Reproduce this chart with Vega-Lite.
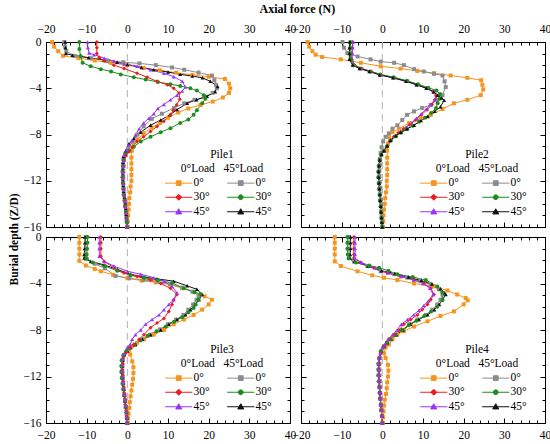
{
  "$schema": "https://vega.github.io/schema/vega-lite/v6.json",
  "padding": {"left": 7, "top": 2, "right": 1, "bottom": 3},
  "title": {"text": "Axial force (N)", "frame": "bounds", "anchor": "middle", "dx": 18, "font": "Liberation Serif", "fontSize": 12, "fontWeight": "bold", "color": "#000", "offset": 5},
  "data": {"name": "piles"},
  "datasets": {
    "piles": [
      {"p":1,"s":"A0","f":-18.5,"z":0},{"p":1,"s":"A0","f":-18,"z":-0.4},{"p":1,"s":"A0","f":-17,"z":-0.8},{"p":1,"s":"A0","f":-15.8,"z":-1.2},{"p":1,"s":"A0","f":-12,"z":-1.4},{"p":1,"s":"A0","f":-8,"z":-1.6},{"p":1,"s":"A0","f":-4,"z":-1.8},{"p":1,"s":"A0","f":0,"z":-2},{"p":1,"s":"A0","f":4,"z":-2.25},{"p":1,"s":"A0","f":8,"z":-2.45},{"p":1,"s":"A0","f":12,"z":-2.65},{"p":1,"s":"A0","f":16,"z":-2.85},{"p":1,"s":"A0","f":20,"z":-3},{"p":1,"s":"A0","f":24,"z":-3.2},{"p":1,"s":"A0","f":25,"z":-3.6},{"p":1,"s":"A0","f":25.3,"z":-4},{"p":1,"s":"A0","f":25,"z":-4.4},{"p":1,"s":"A0","f":23.5,"z":-4.8},{"p":1,"s":"A0","f":21,"z":-5.15},{"p":1,"s":"A0","f":18,"z":-5.45},{"p":1,"s":"A0","f":15,"z":-5.75},{"p":1,"s":"A0","f":12.5,"z":-6.1},{"p":1,"s":"A0","f":10,"z":-6.55},{"p":1,"s":"A0","f":8,"z":-7},{"p":1,"s":"A0","f":6,"z":-7.4},{"p":1,"s":"A0","f":4,"z":-7.9},{"p":1,"s":"A0","f":2.5,"z":-8.4},{"p":1,"s":"A0","f":1.5,"z":-8.9},{"p":1,"s":"A0","f":1.1,"z":-9.4},{"p":1,"s":"A0","f":1,"z":-10},{"p":1,"s":"A0","f":1,"z":-10.5},{"p":1,"s":"A0","f":1,"z":-11},{"p":1,"s":"A0","f":1,"z":-11.5},{"p":1,"s":"A0","f":1,"z":-12},{"p":1,"s":"A0","f":0.8,"z":-12.5},{"p":1,"s":"A0","f":0.7,"z":-13},{"p":1,"s":"A0","f":0.5,"z":-13.5},{"p":1,"s":"A0","f":0.4,"z":-14},{"p":1,"s":"A0","f":0.3,"z":-14.5},{"p":1,"s":"A0","f":0.2,"z":-15},{"p":1,"s":"A0","f":0.1,"z":-15.5},{"p":1,"s":"A0","f":0,"z":-16},
      {"p":1,"s":"B0","f":-15.5,"z":0},{"p":1,"s":"B0","f":-15.3,"z":-0.4},{"p":1,"s":"B0","f":-15,"z":-0.8},{"p":1,"s":"B0","f":-13,"z":-1.2},{"p":1,"s":"B0","f":-9,"z":-1.4},{"p":1,"s":"B0","f":-5,"z":-1.6},{"p":1,"s":"B0","f":-1,"z":-1.75},{"p":1,"s":"B0","f":3,"z":-1.85},{"p":1,"s":"B0","f":7,"z":-2},{"p":1,"s":"B0","f":11,"z":-2.2},{"p":1,"s":"B0","f":14,"z":-2.4},{"p":1,"s":"B0","f":17.5,"z":-2.65},{"p":1,"s":"B0","f":20.8,"z":-2.9},{"p":1,"s":"B0","f":21.4,"z":-3.3},{"p":1,"s":"B0","f":21.8,"z":-3.7},{"p":1,"s":"B0","f":22,"z":-4},{"p":1,"s":"B0","f":21,"z":-4.4},{"p":1,"s":"B0","f":19,"z":-4.75},{"p":1,"s":"B0","f":16.5,"z":-5},{"p":1,"s":"B0","f":14,"z":-5.3},{"p":1,"s":"B0","f":11.5,"z":-5.7},{"p":1,"s":"B0","f":8.5,"z":-6.2},{"p":1,"s":"B0","f":6,"z":-6.65},{"p":1,"s":"B0","f":4,"z":-7.3},{"p":1,"s":"B0","f":2.5,"z":-8},{"p":1,"s":"B0","f":1.3,"z":-8.6},{"p":1,"s":"B0","f":0.2,"z":-9.2},{"p":1,"s":"B0","f":-0.5,"z":-9.7},{"p":1,"s":"B0","f":-0.8,"z":-10.2},{"p":1,"s":"B0","f":-0.9,"z":-10.7},{"p":1,"s":"B0","f":-1,"z":-11.2},{"p":1,"s":"B0","f":-1,"z":-11.7},{"p":1,"s":"B0","f":-1,"z":-12.2},{"p":1,"s":"B0","f":-0.9,"z":-12.7},{"p":1,"s":"B0","f":-0.8,"z":-13.2},{"p":1,"s":"B0","f":-0.6,"z":-13.7},{"p":1,"s":"B0","f":-0.5,"z":-14.2},{"p":1,"s":"B0","f":-0.3,"z":-14.7},{"p":1,"s":"B0","f":-0.2,"z":-15.2},{"p":1,"s":"B0","f":-0.1,"z":-15.6},{"p":1,"s":"B0","f":0,"z":-16},
      {"p":1,"s":"B45","f":-15.3,"z":0},{"p":1,"s":"B45","f":-15.2,"z":-0.5},{"p":1,"s":"B45","f":-15.1,"z":-1},{"p":1,"s":"B45","f":-13.5,"z":-1.15},{"p":1,"s":"B45","f":-9.5,"z":-1.35},{"p":1,"s":"B45","f":-5.7,"z":-1.55},{"p":1,"s":"B45","f":-2.5,"z":-1.75},{"p":1,"s":"B45","f":0,"z":-1.95},{"p":1,"s":"B45","f":3.5,"z":-2.2},{"p":1,"s":"B45","f":6.5,"z":-2.4},{"p":1,"s":"B45","f":10,"z":-2.6},{"p":1,"s":"B45","f":13,"z":-2.8},{"p":1,"s":"B45","f":16,"z":-2.95},{"p":1,"s":"B45","f":18.5,"z":-3.1},{"p":1,"s":"B45","f":20.4,"z":-3.4},{"p":1,"s":"B45","f":22.2,"z":-3.85},{"p":1,"s":"B45","f":21.6,"z":-4.3},{"p":1,"s":"B45","f":19.6,"z":-4.7},{"p":1,"s":"B45","f":17,"z":-5},{"p":1,"s":"B45","f":14.7,"z":-5.3},{"p":1,"s":"B45","f":12.2,"z":-5.85},{"p":1,"s":"B45","f":10.5,"z":-6.3},{"p":1,"s":"B45","f":8.2,"z":-6.75},{"p":1,"s":"B45","f":5.7,"z":-7.2},{"p":1,"s":"B45","f":3.3,"z":-7.8},{"p":1,"s":"B45","f":1.6,"z":-8.35},{"p":1,"s":"B45","f":0.4,"z":-8.8},{"p":1,"s":"B45","f":-0.4,"z":-9.4},{"p":1,"s":"B45","f":-1,"z":-9.9},{"p":1,"s":"B45","f":-1.1,"z":-10.4},{"p":1,"s":"B45","f":-1.1,"z":-10.9},{"p":1,"s":"B45","f":-1.1,"z":-11.4},{"p":1,"s":"B45","f":-1.1,"z":-11.9},{"p":1,"s":"B45","f":-1,"z":-12.4},{"p":1,"s":"B45","f":-0.9,"z":-12.9},{"p":1,"s":"B45","f":-0.7,"z":-13.4},{"p":1,"s":"B45","f":-0.5,"z":-13.9},{"p":1,"s":"B45","f":-0.4,"z":-14.4},{"p":1,"s":"B45","f":-0.3,"z":-14.9},{"p":1,"s":"B45","f":-0.2,"z":-15.4},{"p":1,"s":"B45","f":0,"z":-16},
      {"p":1,"s":"B30","f":-11.8,"z":0},{"p":1,"s":"B30","f":-11.8,"z":-0.6},{"p":1,"s":"B30","f":-11.5,"z":-1.2},{"p":1,"s":"B30","f":-11,"z":-1.8},{"p":1,"s":"B30","f":-9,"z":-2.1},{"p":1,"s":"B30","f":-6.5,"z":-2.35},{"p":1,"s":"B30","f":-4,"z":-2.55},{"p":1,"s":"B30","f":-1.6,"z":-2.8},{"p":1,"s":"B30","f":1.6,"z":-3.05},{"p":1,"s":"B30","f":4.5,"z":-3.25},{"p":1,"s":"B30","f":7.5,"z":-3.45},{"p":1,"s":"B30","f":10.6,"z":-3.65},{"p":1,"s":"B30","f":13,"z":-3.8},{"p":1,"s":"B30","f":15.5,"z":-4},{"p":1,"s":"B30","f":17.1,"z":-4.2},{"p":1,"s":"B30","f":18.8,"z":-4.6},{"p":1,"s":"B30","f":19.2,"z":-4.9},{"p":1,"s":"B30","f":18.4,"z":-5.3},{"p":1,"s":"B30","f":17.1,"z":-5.9},{"p":1,"s":"B30","f":16.3,"z":-6.3},{"p":1,"s":"B30","f":15,"z":-6.7},{"p":1,"s":"B30","f":13,"z":-7},{"p":1,"s":"B30","f":10.6,"z":-7.45},{"p":1,"s":"B30","f":8.2,"z":-7.8},{"p":1,"s":"B30","f":5.7,"z":-8.2},{"p":1,"s":"B30","f":3.3,"z":-8.6},{"p":1,"s":"B30","f":1.6,"z":-9.05},{"p":1,"s":"B30","f":0.5,"z":-9.4},{"p":1,"s":"B30","f":-0.5,"z":-9.75},{"p":1,"s":"B30","f":-1,"z":-10.2},{"p":1,"s":"B30","f":-1.1,"z":-10.7},{"p":1,"s":"B30","f":-1.2,"z":-11.2},{"p":1,"s":"B30","f":-1.2,"z":-11.7},{"p":1,"s":"B30","f":-1.1,"z":-12.2},{"p":1,"s":"B30","f":-1,"z":-12.7},{"p":1,"s":"B30","f":-0.9,"z":-13.2},{"p":1,"s":"B30","f":-0.7,"z":-13.7},{"p":1,"s":"B30","f":-0.5,"z":-14.2},{"p":1,"s":"B30","f":-0.4,"z":-14.7},{"p":1,"s":"B30","f":-0.2,"z":-15.2},{"p":1,"s":"B30","f":-0.1,"z":-15.6},{"p":1,"s":"B30","f":0,"z":-16},
      {"p":1,"s":"A30","f":-7.5,"z":0},{"p":1,"s":"A30","f":-7.5,"z":-0.5},{"p":1,"s":"A30","f":-7.5,"z":-1},{"p":1,"s":"A30","f":-6.9,"z":-1.35},{"p":1,"s":"A30","f":-5.7,"z":-1.65},{"p":1,"s":"A30","f":-3.3,"z":-2},{"p":1,"s":"A30","f":-0.8,"z":-2.3},{"p":1,"s":"A30","f":2.4,"z":-2.7},{"p":1,"s":"A30","f":4.9,"z":-3.05},{"p":1,"s":"A30","f":7.3,"z":-3.4},{"p":1,"s":"A30","f":9.8,"z":-3.7},{"p":1,"s":"A30","f":11.4,"z":-4},{"p":1,"s":"A30","f":12.7,"z":-4.4},{"p":1,"s":"A30","f":12.9,"z":-4.95},{"p":1,"s":"A30","f":12.1,"z":-5.45},{"p":1,"s":"A30","f":11.3,"z":-5.9},{"p":1,"s":"A30","f":10.6,"z":-6.3},{"p":1,"s":"A30","f":9,"z":-6.85},{"p":1,"s":"A30","f":7.3,"z":-7.3},{"p":1,"s":"A30","f":5.7,"z":-7.75},{"p":1,"s":"A30","f":4,"z":-8.2},{"p":1,"s":"A30","f":2.4,"z":-8.6},{"p":1,"s":"A30","f":1.2,"z":-9.1},{"p":1,"s":"A30","f":0.4,"z":-9.5},{"p":1,"s":"A30","f":-0.4,"z":-9.85},{"p":1,"s":"A30","f":-0.9,"z":-10.3},{"p":1,"s":"A30","f":-1,"z":-10.8},{"p":1,"s":"A30","f":-1.1,"z":-11.3},{"p":1,"s":"A30","f":-1.1,"z":-11.8},{"p":1,"s":"A30","f":-1,"z":-12.3},{"p":1,"s":"A30","f":-0.9,"z":-12.8},{"p":1,"s":"A30","f":-0.8,"z":-13.3},{"p":1,"s":"A30","f":-0.6,"z":-13.8},{"p":1,"s":"A30","f":-0.5,"z":-14.3},{"p":1,"s":"A30","f":-0.3,"z":-14.8},{"p":1,"s":"A30","f":-0.2,"z":-15.3},{"p":1,"s":"A30","f":0,"z":-16},
      {"p":1,"s":"A45","f":-9.8,"z":0},{"p":1,"s":"A45","f":-9.7,"z":-0.5},{"p":1,"s":"A45","f":-9.4,"z":-0.95},{"p":1,"s":"A45","f":-8.2,"z":-1.1},{"p":1,"s":"A45","f":-5.7,"z":-1.4},{"p":1,"s":"A45","f":-3.3,"z":-1.65},{"p":1,"s":"A45","f":-0.8,"z":-1.9},{"p":1,"s":"A45","f":2.4,"z":-2.1},{"p":1,"s":"A45","f":5.7,"z":-2.4},{"p":1,"s":"A45","f":9,"z":-2.7},{"p":1,"s":"A45","f":11.4,"z":-3},{"p":1,"s":"A45","f":13.5,"z":-3.4},{"p":1,"s":"A45","f":14.3,"z":-3.9},{"p":1,"s":"A45","f":13.5,"z":-4.25},{"p":1,"s":"A45","f":12.2,"z":-4.6},{"p":1,"s":"A45","f":10.6,"z":-5},{"p":1,"s":"A45","f":9,"z":-5.4},{"p":1,"s":"A45","f":7.5,"z":-5.75},{"p":1,"s":"A45","f":6.5,"z":-6.2},{"p":1,"s":"A45","f":5.3,"z":-6.6},{"p":1,"s":"A45","f":4,"z":-7},{"p":1,"s":"A45","f":2.9,"z":-7.5},{"p":1,"s":"A45","f":2,"z":-8.05},{"p":1,"s":"A45","f":1.2,"z":-8.5},{"p":1,"s":"A45","f":0.4,"z":-8.9},{"p":1,"s":"A45","f":-0.2,"z":-9.35},{"p":1,"s":"A45","f":-0.8,"z":-9.8},{"p":1,"s":"A45","f":-1,"z":-10.3},{"p":1,"s":"A45","f":-1.1,"z":-10.8},{"p":1,"s":"A45","f":-1.1,"z":-11.3},{"p":1,"s":"A45","f":-1.1,"z":-11.8},{"p":1,"s":"A45","f":-1,"z":-12.3},{"p":1,"s":"A45","f":-0.9,"z":-12.8},{"p":1,"s":"A45","f":-0.8,"z":-13.3},{"p":1,"s":"A45","f":-0.6,"z":-13.8},{"p":1,"s":"A45","f":-0.4,"z":-14.3},{"p":1,"s":"A45","f":-0.3,"z":-14.8},{"p":1,"s":"A45","f":-0.2,"z":-15.3},{"p":1,"s":"A45","f":0,"z":-16},

      {"p":2,"s":"A0","f":-18.4,"z":0},{"p":2,"s":"A0","f":-18,"z":-0.4},{"p":2,"s":"A0","f":-17.2,"z":-0.8},{"p":2,"s":"A0","f":-16.4,"z":-1.1},{"p":2,"s":"A0","f":-14.8,"z":-1.3},{"p":2,"s":"A0","f":-10.2,"z":-1.5},{"p":2,"s":"A0","f":-5.3,"z":-1.8},{"p":2,"s":"A0","f":-0.4,"z":-2.1},{"p":2,"s":"A0","f":4.5,"z":-2.3},{"p":2,"s":"A0","f":8.6,"z":-2.5},{"p":2,"s":"A0","f":12.7,"z":-2.7},{"p":2,"s":"A0","f":16.8,"z":-2.9},{"p":2,"s":"A0","f":20.9,"z":-3.1},{"p":2,"s":"A0","f":24.3,"z":-3.3},{"p":2,"s":"A0","f":24.6,"z":-3.7},{"p":2,"s":"A0","f":24.8,"z":-4.1},{"p":2,"s":"A0","f":24.2,"z":-4.6},{"p":2,"s":"A0","f":20.9,"z":-5},{"p":2,"s":"A0","f":17.6,"z":-5.3},{"p":2,"s":"A0","f":14.8,"z":-5.8},{"p":2,"s":"A0","f":11.9,"z":-6.3},{"p":2,"s":"A0","f":9.4,"z":-6.6},{"p":2,"s":"A0","f":6.6,"z":-7},{"p":2,"s":"A0","f":4.1,"z":-7.5},{"p":2,"s":"A0","f":2.5,"z":-7.8},{"p":2,"s":"A0","f":1.6,"z":-8.2},{"p":2,"s":"A0","f":1.4,"z":-8.8},{"p":2,"s":"A0","f":1.2,"z":-9.4},{"p":2,"s":"A0","f":1.2,"z":-10},{"p":2,"s":"A0","f":1.2,"z":-10.5},{"p":2,"s":"A0","f":1.2,"z":-11},{"p":2,"s":"A0","f":1.2,"z":-11.5},{"p":2,"s":"A0","f":1.1,"z":-12},{"p":2,"s":"A0","f":1.1,"z":-12.5},{"p":2,"s":"A0","f":0.9,"z":-13},{"p":2,"s":"A0","f":0.7,"z":-13.5},{"p":2,"s":"A0","f":0.6,"z":-14},{"p":2,"s":"A0","f":0.4,"z":-14.5},{"p":2,"s":"A0","f":0.3,"z":-15},{"p":2,"s":"A0","f":0.2,"z":-15.5},{"p":2,"s":"A0","f":0.1,"z":-16},
      {"p":2,"s":"B0","f":-9.8,"z":0},{"p":2,"s":"B0","f":-9.4,"z":-0.5},{"p":2,"s":"B0","f":-8.6,"z":-0.95},{"p":2,"s":"B0","f":-6.1,"z":-1.25},{"p":2,"s":"B0","f":-2.9,"z":-1.5},{"p":2,"s":"B0","f":-0.4,"z":-1.7},{"p":2,"s":"B0","f":2.9,"z":-1.8},{"p":2,"s":"B0","f":5.3,"z":-2},{"p":2,"s":"B0","f":7.8,"z":-2.35},{"p":2,"s":"B0","f":10.2,"z":-2.55},{"p":2,"s":"B0","f":12.7,"z":-2.75},{"p":2,"s":"B0","f":14.8,"z":-2.9},{"p":2,"s":"B0","f":15.3,"z":-3.4},{"p":2,"s":"B0","f":15.6,"z":-3.9},{"p":2,"s":"B0","f":14.8,"z":-4.6},{"p":2,"s":"B0","f":13.5,"z":-5},{"p":2,"s":"B0","f":11.9,"z":-5.45},{"p":2,"s":"B0","f":9.8,"z":-5.7},{"p":2,"s":"B0","f":7.8,"z":-6},{"p":2,"s":"B0","f":6.1,"z":-6.3},{"p":2,"s":"B0","f":4.9,"z":-6.75},{"p":2,"s":"B0","f":3.7,"z":-7.2},{"p":2,"s":"B0","f":2.5,"z":-7.5},{"p":2,"s":"B0","f":1.6,"z":-7.9},{"p":2,"s":"B0","f":0.8,"z":-8.2},{"p":2,"s":"B0","f":0.2,"z":-8.6},{"p":2,"s":"B0","f":-0.2,"z":-9.1},{"p":2,"s":"B0","f":-0.4,"z":-9.6},{"p":2,"s":"B0","f":-0.6,"z":-10.1},{"p":2,"s":"B0","f":-0.6,"z":-10.6},{"p":2,"s":"B0","f":-0.7,"z":-11.1},{"p":2,"s":"B0","f":-0.7,"z":-11.6},{"p":2,"s":"B0","f":-0.6,"z":-12.1},{"p":2,"s":"B0","f":-0.6,"z":-12.6},{"p":2,"s":"B0","f":-0.5,"z":-13.1},{"p":2,"s":"B0","f":-0.4,"z":-13.6},{"p":2,"s":"B0","f":-0.3,"z":-14.1},{"p":2,"s":"B0","f":-0.3,"z":-14.6},{"p":2,"s":"B0","f":-0.2,"z":-15.1},{"p":2,"s":"B0","f":-0.1,"z":-15.6},{"p":2,"s":"B0","f":0,"z":-16},
      {"p":2,"s":"A30","f":-7.3,"z":0},{"p":2,"s":"A30","f":-7.4,"z":-0.5},{"p":2,"s":"A30","f":-7.5,"z":-1},{"p":2,"s":"A30","f":-7.5,"z":-1.5},{"p":2,"s":"A30","f":-6.8,"z":-2},{"p":2,"s":"A30","f":-5,"z":-2.3},{"p":2,"s":"A30","f":-2.7,"z":-2.55},{"p":2,"s":"A30","f":-0.2,"z":-2.85},{"p":2,"s":"A30","f":3,"z":-3.1},{"p":2,"s":"A30","f":6.2,"z":-3.4},{"p":2,"s":"A30","f":8.7,"z":-3.7},{"p":2,"s":"A30","f":11,"z":-4},{"p":2,"s":"A30","f":12.5,"z":-4.3},{"p":2,"s":"A30","f":13.2,"z":-4.65},{"p":2,"s":"A30","f":12.9,"z":-5},{"p":2,"s":"A30","f":12.2,"z":-5.4},{"p":2,"s":"A30","f":11,"z":-5.85},{"p":2,"s":"A30","f":9.6,"z":-6.3},{"p":2,"s":"A30","f":8.2,"z":-6.75},{"p":2,"s":"A30","f":6.7,"z":-7.15},{"p":2,"s":"A30","f":5.2,"z":-7.5},{"p":2,"s":"A30","f":3.9,"z":-7.85},{"p":2,"s":"A30","f":2.8,"z":-8.2},{"p":2,"s":"A30","f":1.8,"z":-8.6},{"p":2,"s":"A30","f":1,"z":-9.05},{"p":2,"s":"A30","f":0.3,"z":-9.45},{"p":2,"s":"A30","f":-0.2,"z":-9.75},{"p":2,"s":"A30","f":-0.6,"z":-10.2},{"p":2,"s":"A30","f":-0.8,"z":-10.7},{"p":2,"s":"A30","f":-0.9,"z":-11.2},{"p":2,"s":"A30","f":-0.9,"z":-11.7},{"p":2,"s":"A30","f":-0.8,"z":-12.2},{"p":2,"s":"A30","f":-0.7,"z":-12.7},{"p":2,"s":"A30","f":-0.6,"z":-13.2},{"p":2,"s":"A30","f":-0.5,"z":-13.7},{"p":2,"s":"A30","f":-0.4,"z":-14.2},{"p":2,"s":"A30","f":-0.3,"z":-14.7},{"p":2,"s":"A30","f":-0.2,"z":-15.2},{"p":2,"s":"A30","f":-0.1,"z":-15.6},{"p":2,"s":"A30","f":0,"z":-16},
      {"p":2,"s":"A45","f":-7.2,"z":0},{"p":2,"s":"A45","f":-7.3,"z":-0.5},{"p":2,"s":"A45","f":-7.4,"z":-1},{"p":2,"s":"A45","f":-7.5,"z":-1.5},{"p":2,"s":"A45","f":-6.9,"z":-2},{"p":2,"s":"A45","f":-5.2,"z":-2.3},{"p":2,"s":"A45","f":-2.8,"z":-2.55},{"p":2,"s":"A45","f":-0.3,"z":-2.85},{"p":2,"s":"A45","f":2.9,"z":-3.1},{"p":2,"s":"A45","f":6,"z":-3.4},{"p":2,"s":"A45","f":8.5,"z":-3.7},{"p":2,"s":"A45","f":10.9,"z":-4},{"p":2,"s":"A45","f":12.6,"z":-4.3},{"p":2,"s":"A45","f":13.7,"z":-4.6},{"p":2,"s":"A45","f":12.9,"z":-5},{"p":2,"s":"A45","f":11.9,"z":-5.4},{"p":2,"s":"A45","f":10.8,"z":-5.8},{"p":2,"s":"A45","f":9.6,"z":-6.2},{"p":2,"s":"A45","f":8.4,"z":-6.6},{"p":2,"s":"A45","f":7.2,"z":-7},{"p":2,"s":"A45","f":5.8,"z":-7.4},{"p":2,"s":"A45","f":4.4,"z":-7.8},{"p":2,"s":"A45","f":3.2,"z":-8.15},{"p":2,"s":"A45","f":2,"z":-8.55},{"p":2,"s":"A45","f":1.1,"z":-9},{"p":2,"s":"A45","f":0.3,"z":-9.4},{"p":2,"s":"A45","f":-0.2,"z":-9.75},{"p":2,"s":"A45","f":-0.6,"z":-10.2},{"p":2,"s":"A45","f":-0.8,"z":-10.7},{"p":2,"s":"A45","f":-0.9,"z":-11.2},{"p":2,"s":"A45","f":-0.9,"z":-11.7},{"p":2,"s":"A45","f":-0.8,"z":-12.2},{"p":2,"s":"A45","f":-0.7,"z":-12.7},{"p":2,"s":"A45","f":-0.6,"z":-13.2},{"p":2,"s":"A45","f":-0.5,"z":-13.7},{"p":2,"s":"A45","f":-0.4,"z":-14.2},{"p":2,"s":"A45","f":-0.3,"z":-14.7},{"p":2,"s":"A45","f":-0.2,"z":-15.2},{"p":2,"s":"A45","f":-0.1,"z":-15.6},{"p":2,"s":"A45","f":0,"z":-16},
      {"p":2,"s":"B30","f":-7.9,"z":0},{"p":2,"s":"B30","f":-7.9,"z":-0.5},{"p":2,"s":"B30","f":-7.9,"z":-1},{"p":2,"s":"B30","f":-7.8,"z":-1.5},{"p":2,"s":"B30","f":-7.1,"z":-2},{"p":2,"s":"B30","f":-5.4,"z":-2.3},{"p":2,"s":"B30","f":-3,"z":-2.55},{"p":2,"s":"B30","f":-0.5,"z":-2.8},{"p":2,"s":"B30","f":2.8,"z":-3.05},{"p":2,"s":"B30","f":6.1,"z":-3.35},{"p":2,"s":"B30","f":8.8,"z":-3.65},{"p":2,"s":"B30","f":11.3,"z":-3.95},{"p":2,"s":"B30","f":13.3,"z":-4.2},{"p":2,"s":"B30","f":14.2,"z":-4.5},{"p":2,"s":"B30","f":14.1,"z":-4.9},{"p":2,"s":"B30","f":13.6,"z":-5.3},{"p":2,"s":"B30","f":13.2,"z":-5.7},{"p":2,"s":"B30","f":12,"z":-6.15},{"p":2,"s":"B30","f":10.5,"z":-6.55},{"p":2,"s":"B30","f":9,"z":-6.9},{"p":2,"s":"B30","f":7.5,"z":-7.25},{"p":2,"s":"B30","f":6,"z":-7.55},{"p":2,"s":"B30","f":4.6,"z":-7.85},{"p":2,"s":"B30","f":3.3,"z":-8.15},{"p":2,"s":"B30","f":2.1,"z":-8.5},{"p":2,"s":"B30","f":1.2,"z":-9},{"p":2,"s":"B30","f":0.4,"z":-9.4},{"p":2,"s":"B30","f":-0.3,"z":-9.75},{"p":2,"s":"B30","f":-0.7,"z":-10.2},{"p":2,"s":"B30","f":-0.9,"z":-10.7},{"p":2,"s":"B30","f":-1,"z":-11.2},{"p":2,"s":"B30","f":-1,"z":-11.7},{"p":2,"s":"B30","f":-0.9,"z":-12.2},{"p":2,"s":"B30","f":-0.8,"z":-12.7},{"p":2,"s":"B30","f":-0.7,"z":-13.2},{"p":2,"s":"B30","f":-0.6,"z":-13.7},{"p":2,"s":"B30","f":-0.4,"z":-14.2},{"p":2,"s":"B30","f":-0.3,"z":-14.7},{"p":2,"s":"B30","f":-0.2,"z":-15.2},{"p":2,"s":"B30","f":-0.1,"z":-15.6},{"p":2,"s":"B30","f":0,"z":-16},
      {"p":2,"s":"B45","f":-8,"z":0},{"p":2,"s":"B45","f":-8.1,"z":-0.5},{"p":2,"s":"B45","f":-8.1,"z":-1},{"p":2,"s":"B45","f":-8.1,"z":-1.5},{"p":2,"s":"B45","f":-7.3,"z":-2},{"p":2,"s":"B45","f":-5.6,"z":-2.3},{"p":2,"s":"B45","f":-3.2,"z":-2.55},{"p":2,"s":"B45","f":-0.7,"z":-2.85},{"p":2,"s":"B45","f":2.6,"z":-3.1},{"p":2,"s":"B45","f":5.8,"z":-3.4},{"p":2,"s":"B45","f":8.4,"z":-3.7},{"p":2,"s":"B45","f":10.8,"z":-4},{"p":2,"s":"B45","f":12.6,"z":-4.3},{"p":2,"s":"B45","f":13.6,"z":-4.6},{"p":2,"s":"B45","f":14.6,"z":-4.85},{"p":2,"s":"B45","f":15.2,"z":-5.05},{"p":2,"s":"B45","f":14.3,"z":-5.6},{"p":2,"s":"B45","f":12.9,"z":-6},{"p":2,"s":"B45","f":11.2,"z":-6.45},{"p":2,"s":"B45","f":9.5,"z":-6.8},{"p":2,"s":"B45","f":7.8,"z":-7.2},{"p":2,"s":"B45","f":6.1,"z":-7.5},{"p":2,"s":"B45","f":4.5,"z":-7.8},{"p":2,"s":"B45","f":3.3,"z":-8.1},{"p":2,"s":"B45","f":2,"z":-8.5},{"p":2,"s":"B45","f":1.2,"z":-9},{"p":2,"s":"B45","f":0.4,"z":-9.4},{"p":2,"s":"B45","f":-0.2,"z":-9.7},{"p":2,"s":"B45","f":-0.6,"z":-10.2},{"p":2,"s":"B45","f":-0.8,"z":-10.7},{"p":2,"s":"B45","f":-0.9,"z":-11.2},{"p":2,"s":"B45","f":-0.9,"z":-11.7},{"p":2,"s":"B45","f":-0.8,"z":-12.2},{"p":2,"s":"B45","f":-0.7,"z":-12.7},{"p":2,"s":"B45","f":-0.6,"z":-13.2},{"p":2,"s":"B45","f":-0.5,"z":-13.7},{"p":2,"s":"B45","f":-0.4,"z":-14.2},{"p":2,"s":"B45","f":-0.3,"z":-14.7},{"p":2,"s":"B45","f":-0.2,"z":-15.2},{"p":2,"s":"B45","f":-0.1,"z":-15.6},{"p":2,"s":"B45","f":0,"z":-16},

      {"p":3,"s":"A0","f":-11.8,"z":0},{"p":3,"s":"A0","f":-11.8,"z":-0.5},{"p":3,"s":"A0","f":-11.8,"z":-1},{"p":3,"s":"A0","f":-11.8,"z":-1.5},{"p":3,"s":"A0","f":-11.8,"z":-2.05},{"p":3,"s":"A0","f":-10.2,"z":-2.45},{"p":3,"s":"A0","f":-8,"z":-2.75},{"p":3,"s":"A0","f":-6.5,"z":-2.95},{"p":3,"s":"A0","f":-3.5,"z":-3.25},{"p":3,"s":"A0","f":0,"z":-3.55},{"p":3,"s":"A0","f":3.5,"z":-3.75},{"p":3,"s":"A0","f":7,"z":-3.9},{"p":3,"s":"A0","f":10.6,"z":-4.1},{"p":3,"s":"A0","f":13.5,"z":-4.4},{"p":3,"s":"A0","f":16.5,"z":-4.75},{"p":3,"s":"A0","f":19,"z":-5.1},{"p":3,"s":"A0","f":20.8,"z":-5.4},{"p":3,"s":"A0","f":20,"z":-5.8},{"p":3,"s":"A0","f":18.4,"z":-6.25},{"p":3,"s":"A0","f":16.3,"z":-6.7},{"p":3,"s":"A0","f":13.9,"z":-7.1},{"p":3,"s":"A0","f":11.4,"z":-7.5},{"p":3,"s":"A0","f":9,"z":-8},{"p":3,"s":"A0","f":6.5,"z":-8.4},{"p":3,"s":"A0","f":4.1,"z":-8.8},{"p":3,"s":"A0","f":2.4,"z":-9.1},{"p":3,"s":"A0","f":1.2,"z":-9.4},{"p":3,"s":"A0","f":0.4,"z":-9.7},{"p":3,"s":"A0","f":0.7,"z":-10.1},{"p":3,"s":"A0","f":1.2,"z":-10.7},{"p":3,"s":"A0","f":1.5,"z":-11.2},{"p":3,"s":"A0","f":1.5,"z":-11.7},{"p":3,"s":"A0","f":1.4,"z":-12.2},{"p":3,"s":"A0","f":1.2,"z":-12.7},{"p":3,"s":"A0","f":1,"z":-13.2},{"p":3,"s":"A0","f":0.8,"z":-13.7},{"p":3,"s":"A0","f":0.6,"z":-14.2},{"p":3,"s":"A0","f":0.5,"z":-14.7},{"p":3,"s":"A0","f":0.3,"z":-15.2},{"p":3,"s":"A0","f":0.2,"z":-15.6},{"p":3,"s":"A0","f":0.1,"z":-16},
      {"p":3,"s":"B0","f":-10.2,"z":0},{"p":3,"s":"B0","f":-10.2,"z":-0.5},{"p":3,"s":"B0","f":-10.2,"z":-1},{"p":3,"s":"B0","f":-10.2,"z":-1.5},{"p":3,"s":"B0","f":-10.2,"z":-1.9},{"p":3,"s":"B0","f":-8,"z":-2.3},{"p":3,"s":"B0","f":-5.5,"z":-2.7},{"p":3,"s":"B0","f":-2.9,"z":-3.35},{"p":3,"s":"B0","f":0.5,"z":-3.55},{"p":3,"s":"B0","f":4,"z":-3.7},{"p":3,"s":"B0","f":7.5,"z":-3.85},{"p":3,"s":"B0","f":10.5,"z":-4.05},{"p":3,"s":"B0","f":13.5,"z":-4.35},{"p":3,"s":"B0","f":16,"z":-4.7},{"p":3,"s":"B0","f":17.5,"z":-5},{"p":3,"s":"B0","f":17,"z":-5.4},{"p":3,"s":"B0","f":16.2,"z":-5.8},{"p":3,"s":"B0","f":15,"z":-6.25},{"p":3,"s":"B0","f":13.8,"z":-6.7},{"p":3,"s":"B0","f":12,"z":-7.1},{"p":3,"s":"B0","f":10,"z":-7.5},{"p":3,"s":"B0","f":8,"z":-7.95},{"p":3,"s":"B0","f":5.6,"z":-8.4},{"p":3,"s":"B0","f":3.6,"z":-8.8},{"p":3,"s":"B0","f":1.9,"z":-9.25},{"p":3,"s":"B0","f":0.7,"z":-9.5},{"p":3,"s":"B0","f":-0.1,"z":-9.8},{"p":3,"s":"B0","f":-0.8,"z":-10.15},{"p":3,"s":"B0","f":-1.1,"z":-10.6},{"p":3,"s":"B0","f":-1.2,"z":-11.1},{"p":3,"s":"B0","f":-1.2,"z":-11.6},{"p":3,"s":"B0","f":-1.1,"z":-12.1},{"p":3,"s":"B0","f":-1,"z":-12.6},{"p":3,"s":"B0","f":-0.9,"z":-13.1},{"p":3,"s":"B0","f":-0.7,"z":-13.6},{"p":3,"s":"B0","f":-0.5,"z":-14.1},{"p":3,"s":"B0","f":-0.4,"z":-14.6},{"p":3,"s":"B0","f":-0.2,"z":-15.1},{"p":3,"s":"B0","f":-0.1,"z":-15.6},{"p":3,"s":"B0","f":0,"z":-16},
      {"p":3,"s":"B45","f":-10.4,"z":0},{"p":3,"s":"B45","f":-10.4,"z":-0.5},{"p":3,"s":"B45","f":-10.5,"z":-1},{"p":3,"s":"B45","f":-10.6,"z":-1.5},{"p":3,"s":"B45","f":-10.6,"z":-1.8},{"p":3,"s":"B45","f":-9,"z":-2.1},{"p":3,"s":"B45","f":-5.7,"z":-2.4},{"p":3,"s":"B45","f":-2.4,"z":-2.8},{"p":3,"s":"B45","f":0.8,"z":-3.2},{"p":3,"s":"B45","f":4.1,"z":-3.45},{"p":3,"s":"B45","f":7.3,"z":-3.6},{"p":3,"s":"B45","f":11.4,"z":-3.8},{"p":3,"s":"B45","f":14.7,"z":-4.2},{"p":3,"s":"B45","f":17.1,"z":-4.5},{"p":3,"s":"B45","f":18.4,"z":-4.95},{"p":3,"s":"B45","f":17.6,"z":-5.4},{"p":3,"s":"B45","f":16.7,"z":-5.8},{"p":3,"s":"B45","f":15.5,"z":-6.25},{"p":3,"s":"B45","f":14.3,"z":-6.7},{"p":3,"s":"B45","f":12.2,"z":-7.1},{"p":3,"s":"B45","f":10.2,"z":-7.5},{"p":3,"s":"B45","f":8.2,"z":-8},{"p":3,"s":"B45","f":5.7,"z":-8.4},{"p":3,"s":"B45","f":3.7,"z":-8.8},{"p":3,"s":"B45","f":2,"z":-9.25},{"p":3,"s":"B45","f":0.8,"z":-9.5},{"p":3,"s":"B45","f":0,"z":-9.8},{"p":3,"s":"B45","f":-0.8,"z":-10.1},{"p":3,"s":"B45","f":-1.2,"z":-10.6},{"p":3,"s":"B45","f":-1.3,"z":-11.1},{"p":3,"s":"B45","f":-1.3,"z":-11.6},{"p":3,"s":"B45","f":-1.2,"z":-12.1},{"p":3,"s":"B45","f":-1.1,"z":-12.6},{"p":3,"s":"B45","f":-0.9,"z":-13.1},{"p":3,"s":"B45","f":-0.8,"z":-13.6},{"p":3,"s":"B45","f":-0.6,"z":-14.1},{"p":3,"s":"B45","f":-0.4,"z":-14.6},{"p":3,"s":"B45","f":-0.2,"z":-15.1},{"p":3,"s":"B45","f":-0.1,"z":-15.6},{"p":3,"s":"B45","f":0,"z":-16},
      {"p":3,"s":"B30","f":-9.8,"z":0},{"p":3,"s":"B30","f":-9.8,"z":-0.5},{"p":3,"s":"B30","f":-9.9,"z":-1},{"p":3,"s":"B30","f":-10,"z":-1.5},{"p":3,"s":"B30","f":-10,"z":-1.85},{"p":3,"s":"B30","f":-8.5,"z":-2.2},{"p":3,"s":"B30","f":-5.5,"z":-2.5},{"p":3,"s":"B30","f":-2.5,"z":-2.9},{"p":3,"s":"B30","f":0.8,"z":-3.3},{"p":3,"s":"B30","f":4.2,"z":-3.5},{"p":3,"s":"B30","f":7.5,"z":-3.7},{"p":3,"s":"B30","f":11,"z":-3.95},{"p":3,"s":"B30","f":13.9,"z":-4.4},{"p":3,"s":"B30","f":16.5,"z":-4.75},{"p":3,"s":"B30","f":18,"z":-4.9},{"p":3,"s":"B30","f":17.5,"z":-5.35},{"p":3,"s":"B30","f":16.8,"z":-5.8},{"p":3,"s":"B30","f":16.3,"z":-6.1},{"p":3,"s":"B30","f":15,"z":-6.5},{"p":3,"s":"B30","f":13.5,"z":-6.9},{"p":3,"s":"B30","f":11.5,"z":-7.3},{"p":3,"s":"B30","f":9.5,"z":-7.7},{"p":3,"s":"B30","f":7.2,"z":-8.1},{"p":3,"s":"B30","f":5,"z":-8.5},{"p":3,"s":"B30","f":3.2,"z":-8.9},{"p":3,"s":"B30","f":1.7,"z":-9.3},{"p":3,"s":"B30","f":0.6,"z":-9.55},{"p":3,"s":"B30","f":-0.3,"z":-9.85},{"p":3,"s":"B30","f":-1,"z":-10.2},{"p":3,"s":"B30","f":-1.4,"z":-10.6},{"p":3,"s":"B30","f":-1.5,"z":-11.1},{"p":3,"s":"B30","f":-1.5,"z":-11.6},{"p":3,"s":"B30","f":-1.4,"z":-12.1},{"p":3,"s":"B30","f":-1.2,"z":-12.6},{"p":3,"s":"B30","f":-1,"z":-13.1},{"p":3,"s":"B30","f":-0.8,"z":-13.6},{"p":3,"s":"B30","f":-0.6,"z":-14.1},{"p":3,"s":"B30","f":-0.4,"z":-14.6},{"p":3,"s":"B30","f":-0.2,"z":-15.1},{"p":3,"s":"B30","f":-0.1,"z":-15.6},{"p":3,"s":"B30","f":0,"z":-16},
      {"p":3,"s":"A30","f":-6.5,"z":0},{"p":3,"s":"A30","f":-6.5,"z":-0.5},{"p":3,"s":"A30","f":-6.5,"z":-1},{"p":3,"s":"A30","f":-6.5,"z":-1.65},{"p":3,"s":"A30","f":-5.7,"z":-2.1},{"p":3,"s":"A30","f":-3.3,"z":-2.65},{"p":3,"s":"A30","f":-0.8,"z":-3.1},{"p":3,"s":"A30","f":2.4,"z":-3.4},{"p":3,"s":"A30","f":5.7,"z":-3.7},{"p":3,"s":"A30","f":8.2,"z":-4},{"p":3,"s":"A30","f":10.6,"z":-4.4},{"p":3,"s":"A30","f":12.2,"z":-4.95},{"p":3,"s":"A30","f":11.4,"z":-5.4},{"p":3,"s":"A30","f":11,"z":-5.8},{"p":3,"s":"A30","f":10.2,"z":-6.4},{"p":3,"s":"A30","f":9,"z":-7},{"p":3,"s":"A30","f":7.3,"z":-7.4},{"p":3,"s":"A30","f":5.7,"z":-7.8},{"p":3,"s":"A30","f":4.1,"z":-8.4},{"p":3,"s":"A30","f":2.9,"z":-8.8},{"p":3,"s":"A30","f":1.6,"z":-9.25},{"p":3,"s":"A30","f":0.7,"z":-9.5},{"p":3,"s":"A30","f":-0.4,"z":-10},{"p":3,"s":"A30","f":-1,"z":-10.4},{"p":3,"s":"A30","f":-1.1,"z":-10.9},{"p":3,"s":"A30","f":-1.2,"z":-11.4},{"p":3,"s":"A30","f":-1.1,"z":-11.9},{"p":3,"s":"A30","f":-1,"z":-12.4},{"p":3,"s":"A30","f":-0.9,"z":-12.9},{"p":3,"s":"A30","f":-0.8,"z":-13.4},{"p":3,"s":"A30","f":-0.6,"z":-13.9},{"p":3,"s":"A30","f":-0.5,"z":-14.4},{"p":3,"s":"A30","f":-0.3,"z":-14.9},{"p":3,"s":"A30","f":-0.2,"z":-15.4},{"p":3,"s":"A30","f":0,"z":-16},
      {"p":3,"s":"A45","f":-6.9,"z":0},{"p":3,"s":"A45","f":-6.9,"z":-0.5},{"p":3,"s":"A45","f":-6.9,"z":-1},{"p":3,"s":"A45","f":-6.9,"z":-1.65},{"p":3,"s":"A45","f":-5.7,"z":-2.1},{"p":3,"s":"A45","f":-3.3,"z":-2.5},{"p":3,"s":"A45","f":0,"z":-2.95},{"p":3,"s":"A45","f":3.3,"z":-3.2},{"p":3,"s":"A45","f":6.5,"z":-3.5},{"p":3,"s":"A45","f":9,"z":-3.8},{"p":3,"s":"A45","f":11,"z":-4.25},{"p":3,"s":"A45","f":12.2,"z":-4.8},{"p":3,"s":"A45","f":11.4,"z":-5.4},{"p":3,"s":"A45","f":10.2,"z":-5.8},{"p":3,"s":"A45","f":9,"z":-6.25},{"p":3,"s":"A45","f":7.8,"z":-6.7},{"p":3,"s":"A45","f":6.1,"z":-7.1},{"p":3,"s":"A45","f":4.5,"z":-7.5},{"p":3,"s":"A45","f":3.3,"z":-8},{"p":3,"s":"A45","f":2,"z":-8.4},{"p":3,"s":"A45","f":1.2,"z":-8.8},{"p":3,"s":"A45","f":0.7,"z":-9.25},{"p":3,"s":"A45","f":0,"z":-9.5},{"p":3,"s":"A45","f":-0.8,"z":-10},{"p":3,"s":"A45","f":-1.1,"z":-10.5},{"p":3,"s":"A45","f":-1.2,"z":-11},{"p":3,"s":"A45","f":-1.2,"z":-11.5},{"p":3,"s":"A45","f":-1.1,"z":-12},{"p":3,"s":"A45","f":-1,"z":-12.5},{"p":3,"s":"A45","f":-0.9,"z":-13},{"p":3,"s":"A45","f":-0.7,"z":-13.5},{"p":3,"s":"A45","f":-0.6,"z":-14},{"p":3,"s":"A45","f":-0.4,"z":-14.5},{"p":3,"s":"A45","f":-0.3,"z":-15},{"p":3,"s":"A45","f":-0.1,"z":-15.5},{"p":3,"s":"A45","f":0,"z":-16},

      {"p":4,"s":"A0","f":-11.7,"z":0},{"p":4,"s":"A0","f":-11.7,"z":-0.5},{"p":4,"s":"A0","f":-11.7,"z":-1},{"p":4,"s":"A0","f":-11.7,"z":-1.5},{"p":4,"s":"A0","f":-11.7,"z":-2.1},{"p":4,"s":"A0","f":-10.2,"z":-2.5},{"p":4,"s":"A0","f":-6.1,"z":-2.95},{"p":4,"s":"A0","f":-2.5,"z":-3.3},{"p":4,"s":"A0","f":0.4,"z":-3.5},{"p":4,"s":"A0","f":3.7,"z":-3.7},{"p":4,"s":"A0","f":7.8,"z":-4},{"p":4,"s":"A0","f":12.7,"z":-4.25},{"p":4,"s":"A0","f":16,"z":-4.6},{"p":4,"s":"A0","f":18.4,"z":-4.95},{"p":4,"s":"A0","f":20.5,"z":-5.25},{"p":4,"s":"A0","f":21,"z":-5.45},{"p":4,"s":"A0","f":20,"z":-5.8},{"p":4,"s":"A0","f":17.6,"z":-6.4},{"p":4,"s":"A0","f":14.3,"z":-6.8},{"p":4,"s":"A0","f":11.1,"z":-7.25},{"p":4,"s":"A0","f":7.8,"z":-7.7},{"p":4,"s":"A0","f":5.3,"z":-8.1},{"p":4,"s":"A0","f":3.7,"z":-8.4},{"p":4,"s":"A0","f":2.5,"z":-8.8},{"p":4,"s":"A0","f":1.6,"z":-9.25},{"p":4,"s":"A0","f":0.8,"z":-9.5},{"p":4,"s":"A0","f":0.4,"z":-10},{"p":4,"s":"A0","f":0.8,"z":-10.4},{"p":4,"s":"A0","f":1.4,"z":-11},{"p":4,"s":"A0","f":1.5,"z":-11.5},{"p":4,"s":"A0","f":1.4,"z":-12},{"p":4,"s":"A0","f":1.2,"z":-12.5},{"p":4,"s":"A0","f":1.1,"z":-13},{"p":4,"s":"A0","f":0.9,"z":-13.5},{"p":4,"s":"A0","f":0.6,"z":-14},{"p":4,"s":"A0","f":0.4,"z":-14.5},{"p":4,"s":"A0","f":0.3,"z":-15},{"p":4,"s":"A0","f":0.2,"z":-15.5},{"p":4,"s":"A0","f":0.1,"z":-16},
      {"p":4,"s":"B0","f":-8.2,"z":0},{"p":4,"s":"B0","f":-8.2,"z":-0.5},{"p":4,"s":"B0","f":-8.2,"z":-1},{"p":4,"s":"B0","f":-8.2,"z":-1.5},{"p":4,"s":"B0","f":-8.2,"z":-1.8},{"p":4,"s":"B0","f":-7,"z":-2.1},{"p":4,"s":"B0","f":-3.7,"z":-2.5},{"p":4,"s":"B0","f":-0.4,"z":-2.95},{"p":4,"s":"B0","f":2.9,"z":-3.2},{"p":4,"s":"B0","f":6.1,"z":-3.5},{"p":4,"s":"B0","f":9.4,"z":-3.8},{"p":4,"s":"B0","f":11.9,"z":-4.1},{"p":4,"s":"B0","f":13.9,"z":-4.5},{"p":4,"s":"B0","f":14.8,"z":-4.95},{"p":4,"s":"B0","f":14.3,"z":-5.4},{"p":4,"s":"B0","f":13.5,"z":-5.8},{"p":4,"s":"B0","f":12.3,"z":-6.25},{"p":4,"s":"B0","f":10.7,"z":-6.7},{"p":4,"s":"B0","f":8.6,"z":-7.1},{"p":4,"s":"B0","f":6.6,"z":-7.5},{"p":4,"s":"B0","f":4.9,"z":-8},{"p":4,"s":"B0","f":3.3,"z":-8.4},{"p":4,"s":"B0","f":2,"z":-8.8},{"p":4,"s":"B0","f":1.2,"z":-9.1},{"p":4,"s":"B0","f":0.4,"z":-9.4},{"p":4,"s":"B0","f":-0.2,"z":-9.8},{"p":4,"s":"B0","f":-0.6,"z":-10.4},{"p":4,"s":"B0","f":-0.7,"z":-10.9},{"p":4,"s":"B0","f":-0.7,"z":-11.4},{"p":4,"s":"B0","f":-0.7,"z":-11.9},{"p":4,"s":"B0","f":-0.6,"z":-12.4},{"p":4,"s":"B0","f":-0.5,"z":-12.9},{"p":4,"s":"B0","f":-0.5,"z":-13.4},{"p":4,"s":"B0","f":-0.4,"z":-13.9},{"p":4,"s":"B0","f":-0.3,"z":-14.4},{"p":4,"s":"B0","f":-0.2,"z":-14.9},{"p":4,"s":"B0","f":-0.1,"z":-15.4},{"p":4,"s":"B0","f":0,"z":-16},
      {"p":4,"s":"B45","f":-7.8,"z":0},{"p":4,"s":"B45","f":-7.8,"z":-0.5},{"p":4,"s":"B45","f":-7.8,"z":-1},{"p":4,"s":"B45","f":-7.9,"z":-1.5},{"p":4,"s":"B45","f":-8,"z":-1.8},{"p":4,"s":"B45","f":-6.8,"z":-2.1},{"p":4,"s":"B45","f":-3.5,"z":-2.5},{"p":4,"s":"B45","f":-0.2,"z":-2.9},{"p":4,"s":"B45","f":3.1,"z":-3.15},{"p":4,"s":"B45","f":6.4,"z":-3.45},{"p":4,"s":"B45","f":9.6,"z":-3.75},{"p":4,"s":"B45","f":12.2,"z":-4.05},{"p":4,"s":"B45","f":14.3,"z":-4.45},{"p":4,"s":"B45","f":15.3,"z":-4.8},{"p":4,"s":"B45","f":15.6,"z":-4.95},{"p":4,"s":"B45","f":14.8,"z":-5.4},{"p":4,"s":"B45","f":14,"z":-5.8},{"p":4,"s":"B45","f":12.8,"z":-6.25},{"p":4,"s":"B45","f":11.1,"z":-6.7},{"p":4,"s":"B45","f":9,"z":-7.1},{"p":4,"s":"B45","f":6.9,"z":-7.5},{"p":4,"s":"B45","f":5.1,"z":-8},{"p":4,"s":"B45","f":3.4,"z":-8.4},{"p":4,"s":"B45","f":2.1,"z":-8.8},{"p":4,"s":"B45","f":1.2,"z":-9.1},{"p":4,"s":"B45","f":0.4,"z":-9.4},{"p":4,"s":"B45","f":-0.3,"z":-9.8},{"p":4,"s":"B45","f":-0.7,"z":-10.4},{"p":4,"s":"B45","f":-0.9,"z":-10.9},{"p":4,"s":"B45","f":-0.9,"z":-11.4},{"p":4,"s":"B45","f":-0.9,"z":-11.9},{"p":4,"s":"B45","f":-0.8,"z":-12.4},{"p":4,"s":"B45","f":-0.7,"z":-12.9},{"p":4,"s":"B45","f":-0.6,"z":-13.4},{"p":4,"s":"B45","f":-0.5,"z":-13.9},{"p":4,"s":"B45","f":-0.4,"z":-14.4},{"p":4,"s":"B45","f":-0.2,"z":-14.9},{"p":4,"s":"B45","f":-0.1,"z":-15.4},{"p":4,"s":"B45","f":0,"z":-16},
      {"p":4,"s":"B30","f":-8.6,"z":0},{"p":4,"s":"B30","f":-8.6,"z":-0.5},{"p":4,"s":"B30","f":-8.6,"z":-1},{"p":4,"s":"B30","f":-8.5,"z":-1.5},{"p":4,"s":"B30","f":-8.3,"z":-1.85},{"p":4,"s":"B30","f":-6.5,"z":-2.2},{"p":4,"s":"B30","f":-3.2,"z":-2.45},{"p":4,"s":"B30","f":-0.8,"z":-2.65},{"p":4,"s":"B30","f":1.5,"z":-2.9},{"p":4,"s":"B30","f":3.7,"z":-3.2},{"p":4,"s":"B30","f":7.5,"z":-3.45},{"p":4,"s":"B30","f":10.7,"z":-3.7},{"p":4,"s":"B30","f":13.5,"z":-4.25},{"p":4,"s":"B30","f":14.8,"z":-4.8},{"p":4,"s":"B30","f":14.8,"z":-5.4},{"p":4,"s":"B30","f":13.5,"z":-6},{"p":4,"s":"B30","f":12,"z":-6.4},{"p":4,"s":"B30","f":10.3,"z":-6.8},{"p":4,"s":"B30","f":8.4,"z":-7.2},{"p":4,"s":"B30","f":6.5,"z":-7.6},{"p":4,"s":"B30","f":4.8,"z":-8},{"p":4,"s":"B30","f":3.2,"z":-8.4},{"p":4,"s":"B30","f":2,"z":-8.8},{"p":4,"s":"B30","f":1.1,"z":-9.1},{"p":4,"s":"B30","f":0.3,"z":-9.45},{"p":4,"s":"B30","f":-0.4,"z":-9.85},{"p":4,"s":"B30","f":-0.8,"z":-10.4},{"p":4,"s":"B30","f":-1,"z":-10.9},{"p":4,"s":"B30","f":-1,"z":-11.4},{"p":4,"s":"B30","f":-1,"z":-11.9},{"p":4,"s":"B30","f":-0.9,"z":-12.4},{"p":4,"s":"B30","f":-0.8,"z":-12.9},{"p":4,"s":"B30","f":-0.7,"z":-13.4},{"p":4,"s":"B30","f":-0.6,"z":-13.9},{"p":4,"s":"B30","f":-0.4,"z":-14.4},{"p":4,"s":"B30","f":-0.3,"z":-14.9},{"p":4,"s":"B30","f":-0.1,"z":-15.4},{"p":4,"s":"B30","f":0,"z":-16},
      {"p":4,"s":"A30","f":-7,"z":0},{"p":4,"s":"A30","f":-7,"z":-0.5},{"p":4,"s":"A30","f":-7,"z":-1},{"p":4,"s":"A30","f":-7,"z":-1.5},{"p":4,"s":"A30","f":-7,"z":-1.8},{"p":4,"s":"A30","f":-5.3,"z":-2.2},{"p":4,"s":"A30","f":-2,"z":-2.65},{"p":4,"s":"A30","f":1.2,"z":-3.1},{"p":4,"s":"A30","f":4.5,"z":-3.4},{"p":4,"s":"A30","f":7.8,"z":-3.7},{"p":4,"s":"A30","f":10.2,"z":-4},{"p":4,"s":"A30","f":11.9,"z":-4.4},{"p":4,"s":"A30","f":12.7,"z":-4.95},{"p":4,"s":"A30","f":11.9,"z":-5.4},{"p":4,"s":"A30","f":11.1,"z":-5.8},{"p":4,"s":"A30","f":9.8,"z":-6.25},{"p":4,"s":"A30","f":8.6,"z":-6.7},{"p":4,"s":"A30","f":7,"z":-7.1},{"p":4,"s":"A30","f":5.3,"z":-7.5},{"p":4,"s":"A30","f":4.1,"z":-8},{"p":4,"s":"A30","f":2.9,"z":-8.4},{"p":4,"s":"A30","f":1.6,"z":-8.8},{"p":4,"s":"A30","f":0.8,"z":-9.25},{"p":4,"s":"A30","f":0.2,"z":-9.5},{"p":4,"s":"A30","f":-0.4,"z":-10},{"p":4,"s":"A30","f":-0.8,"z":-10.4},{"p":4,"s":"A30","f":-0.9,"z":-10.9},{"p":4,"s":"A30","f":-0.9,"z":-11.4},{"p":4,"s":"A30","f":-0.9,"z":-11.9},{"p":4,"s":"A30","f":-0.8,"z":-12.4},{"p":4,"s":"A30","f":-0.7,"z":-12.9},{"p":4,"s":"A30","f":-0.6,"z":-13.4},{"p":4,"s":"A30","f":-0.5,"z":-13.9},{"p":4,"s":"A30","f":-0.4,"z":-14.4},{"p":4,"s":"A30","f":-0.2,"z":-14.9},{"p":4,"s":"A30","f":-0.1,"z":-15.4},{"p":4,"s":"A30","f":0,"z":-16},
      {"p":4,"s":"A45","f":-6.7,"z":0},{"p":4,"s":"A45","f":-6.7,"z":-0.5},{"p":4,"s":"A45","f":-6.7,"z":-1},{"p":4,"s":"A45","f":-6.7,"z":-1.5},{"p":4,"s":"A45","f":-6.8,"z":-1.8},{"p":4,"s":"A45","f":-5.1,"z":-2.2},{"p":4,"s":"A45","f":-1.9,"z":-2.65},{"p":4,"s":"A45","f":1.4,"z":-3.1},{"p":4,"s":"A45","f":4.6,"z":-3.4},{"p":4,"s":"A45","f":7.7,"z":-3.7},{"p":4,"s":"A45","f":10,"z":-4},{"p":4,"s":"A45","f":11.7,"z":-4.4},{"p":4,"s":"A45","f":12.5,"z":-4.95},{"p":4,"s":"A45","f":11.3,"z":-5.5},{"p":4,"s":"A45","f":10.2,"z":-5.9},{"p":4,"s":"A45","f":9,"z":-6.3},{"p":4,"s":"A45","f":7.7,"z":-6.7},{"p":4,"s":"A45","f":6.2,"z":-7.1},{"p":4,"s":"A45","f":4.7,"z":-7.5},{"p":4,"s":"A45","f":3.6,"z":-8},{"p":4,"s":"A45","f":2.5,"z":-8.4},{"p":4,"s":"A45","f":1.4,"z":-8.8},{"p":4,"s":"A45","f":0.7,"z":-9.2},{"p":4,"s":"A45","f":0.1,"z":-9.5},{"p":4,"s":"A45","f":-0.5,"z":-10},{"p":4,"s":"A45","f":-0.8,"z":-10.4},{"p":4,"s":"A45","f":-0.9,"z":-10.9},{"p":4,"s":"A45","f":-0.9,"z":-11.4},{"p":4,"s":"A45","f":-0.9,"z":-11.9},{"p":4,"s":"A45","f":-0.8,"z":-12.4},{"p":4,"s":"A45","f":-0.7,"z":-12.9},{"p":4,"s":"A45","f":-0.6,"z":-13.4},{"p":4,"s":"A45","f":-0.5,"z":-13.9},{"p":4,"s":"A45","f":-0.4,"z":-14.4},{"p":4,"s":"A45","f":-0.2,"z":-14.9},{"p":4,"s":"A45","f":-0.1,"z":-15.4},{"p":4,"s":"A45","f":0,"z":-16}
    ]
  },
  "columns": 2,
  "spacing": {"row": 10, "column": 11},
  "bounds": "flush",
  "resolve": {"scale": {"color": "independent", "shape": "independent"}},
  "concat": [
    {
      "width": 244, "height": 185,
      "transform": [{"filter": "datum.p == 1"}],
      "layer": [
        {"data": {"values": [{}]}, "mark": {"type": "rule", "color": "#b3b3b3", "strokeDash": [7, 5], "strokeWidth": 1}, "encoding": {"x": {"datum": 0, "type": "quantitative", "axis": null}}},
        {
          "mark": {"type": "line", "strokeWidth": 1},
          "encoding": {
            "x": {"field": "f", "type": "quantitative", "scale": {"domain": [-20, 40], "nice": false, "zero": false},
              "axis": {"orient": "top", "title": null, "values": [-20,-18,-16,-14,-12,-10,-8,-6,-4,-2,0,2,4,6,8,10,12,14,16,18,20,22,24,26,28,30,32,34,36,38,40], "labelExpr": "datum.value % 10 === 0 ? datum.label : ''", "tickSize": {"condition": {"test": "datum.value % 10 === 0", "value": -5}, "value": -3}, "labelPadding": 13}},
            "y": {"field": "z", "type": "quantitative", "scale": {"domain": [-16, 0], "nice": false, "zero": false},
              "axis": {"orient": "left", "title": "Burial depth (Z/D)", "titleY": 197, "titleFontSize": 11.5, "titleFontWeight": "bold", "titlePadding": 4, "values": [-16,-15,-14,-13,-12,-11,-10,-9,-8,-7,-6,-5,-4,-3,-2,-1,0], "labelExpr": "datum.value % 4 === 0 ? datum.label : ''", "tickSize": {"condition": {"test": "datum.value % 4 === 0", "value": -5}, "value": -3}, "labelPadding": 10}},
            "color": {"field": "s", "type": "nominal",
              "scale": {"domain": ["A0","A30","A45","B0","B30","B45"], "range": ["#f7941d","#ee1c1c","#9933ff","#8c8c8c","#1e8c1e","#111111"]},
              "legend": {"title": ["Pile1", "0°Load\u00a0\u00a0\u00a045°Load"], "orient": "none", "legendX": 127, "legendY": 107, "labelExpr": "slice(datum.label, 1) + '°'",
                "encode": {"symbols": {"update": {
                  "shape": {"signal": "datum.value == 'A30' ? 'M-3.4,0H3.4M0,-0.75L0.75,0L0,0.75L-0.75,0Z' : datum.value == 'B30' ? 'M-3.4,0H3.4M-0.6,0A0.6,0.6,0,1,0,0.6,0A0.6,0.6,0,1,0,-0.6,0Z' : (datum.value == 'A45' || datum.value == 'B45') ? 'M-3.4,0H3.4M0,-0.75L0.75,0.55H-0.75Z' : 'M-3.4,0H3.4M-0.6,-0.6H0.6V0.6H-0.6Z'"},
                  "stroke": {"signal": "datum.value == 'A0' ? '#f7941d' : datum.value == 'B0' ? '#8c8c8c' : datum.value == 'A30' ? '#ee1c1c' : datum.value == 'B30' ? '#1e8c1e' : datum.value == 'A45' ? '#9933ff' : '#111111'"},
                  "fill": {"signal": "datum.value == 'A0' ? '#f7941d' : datum.value == 'B0' ? '#8c8c8c' : datum.value == 'A30' ? '#ee1c1c' : datum.value == 'B30' ? '#1e8c1e' : datum.value == 'A45' ? '#9933ff' : '#111111'"},
                  "strokeWidth": {"value": 1}, "opacity": {"value": 1}}}}}},
            "order": {"field": "z", "sort": "descending"}
          }
        },
        {
          "mark": {"type": "point", "filled": true, "opacity": 1, "size": 16},
          "encoding": {
            "x": {"field": "f", "type": "quantitative", "axis": {"orient": "bottom", "title": null, "labels": false, "values": [-20,-18,-16,-14,-12,-10,-8,-6,-4,-2,0,2,4,6,8,10,12,14,16,18,20,22,24,26,28,30,32,34,36,38,40], "tickSize": {"condition": {"test": "datum.value % 10 === 0", "value": -5}, "value": -3}}},
            "y": {"field": "z", "type": "quantitative", "axis": {"orient": "right", "title": null, "labels": false, "values": [-16,-15,-14,-13,-12,-11,-10,-9,-8,-7,-6,-5,-4,-3,-2,-1,0], "tickSize": {"condition": {"test": "datum.value % 4 === 0", "value": -5}, "value": -3}}},
            "color": {"field": "s", "type": "nominal", "legend": null},
            "shape": {"field": "s", "type": "nominal", "scale": {"domain": ["B45","B30","B0","A45","A30","A0"], "range": ["triangle-up","circle","square","triangle-up","diamond","square"]}, "legend": null}
          }
        }
      ],
      "resolve": {"axis": {"x": "independent", "y": "independent"}}
    },
    {
      "width": 244, "height": 185,
      "transform": [{"filter": "datum.p == 2"}],
      "layer": [
        {"data": {"values": [{}]}, "mark": {"type": "rule", "color": "#b3b3b3", "strokeDash": [7, 5], "strokeWidth": 1}, "encoding": {"x": {"datum": 0, "type": "quantitative", "axis": null}}},
        {
          "mark": {"type": "line", "strokeWidth": 1},
          "encoding": {
            "x": {"field": "f", "type": "quantitative", "scale": {"domain": [-20, 40], "nice": false, "zero": false},
              "axis": {"orient": "top", "title": null, "values": [-20,-18,-16,-14,-12,-10,-8,-6,-4,-2,0,2,4,6,8,10,12,14,16,18,20,22,24,26,28,30,32,34,36,38,40], "labelExpr": "datum.value % 10 === 0 ? datum.label : ''", "tickSize": {"condition": {"test": "datum.value % 10 === 0", "value": -5}, "value": -3}, "labelPadding": 13}},
            "y": {"field": "z", "type": "quantitative", "scale": {"domain": [-16, 0], "nice": false, "zero": false},
              "axis": {"orient": "left", "title": null, "labels": false, "values": [-16,-15,-14,-13,-12,-11,-10,-9,-8,-7,-6,-5,-4,-3,-2,-1,0], "tickSize": {"condition": {"test": "datum.value % 4 === 0", "value": -5}, "value": -3}}},
            "color": {"field": "s", "type": "nominal",
              "scale": {"domain": ["A0","A30","A45","B0","B30","B45"], "range": ["#f7941d","#ee1c1c","#9933ff","#8c8c8c","#1e8c1e","#111111"]},
              "legend": {"title": ["Pile2", "0°Load\u00a0\u00a0\u00a045°Load"], "orient": "none", "legendX": 127, "legendY": 107, "labelExpr": "slice(datum.label, 1) + '°'",
                "encode": {"symbols": {"update": {
                  "shape": {"signal": "datum.value == 'A30' ? 'M-3.4,0H3.4M0,-0.75L0.75,0L0,0.75L-0.75,0Z' : datum.value == 'B30' ? 'M-3.4,0H3.4M-0.6,0A0.6,0.6,0,1,0,0.6,0A0.6,0.6,0,1,0,-0.6,0Z' : (datum.value == 'A45' || datum.value == 'B45') ? 'M-3.4,0H3.4M0,-0.75L0.75,0.55H-0.75Z' : 'M-3.4,0H3.4M-0.6,-0.6H0.6V0.6H-0.6Z'"},
                  "stroke": {"signal": "datum.value == 'A0' ? '#f7941d' : datum.value == 'B0' ? '#8c8c8c' : datum.value == 'A30' ? '#ee1c1c' : datum.value == 'B30' ? '#1e8c1e' : datum.value == 'A45' ? '#9933ff' : '#111111'"},
                  "fill": {"signal": "datum.value == 'A0' ? '#f7941d' : datum.value == 'B0' ? '#8c8c8c' : datum.value == 'A30' ? '#ee1c1c' : datum.value == 'B30' ? '#1e8c1e' : datum.value == 'A45' ? '#9933ff' : '#111111'"},
                  "strokeWidth": {"value": 1}, "opacity": {"value": 1}}}}}},
            "order": {"field": "z", "sort": "descending"}
          }
        },
        {
          "mark": {"type": "point", "filled": true, "opacity": 1, "size": 16},
          "encoding": {
            "x": {"field": "f", "type": "quantitative", "axis": {"orient": "bottom", "title": null, "labels": false, "values": [-20,-18,-16,-14,-12,-10,-8,-6,-4,-2,0,2,4,6,8,10,12,14,16,18,20,22,24,26,28,30,32,34,36,38,40], "tickSize": {"condition": {"test": "datum.value % 10 === 0", "value": -5}, "value": -3}}},
            "y": {"field": "z", "type": "quantitative", "axis": {"orient": "right", "title": null, "labels": false, "values": [-16,-15,-14,-13,-12,-11,-10,-9,-8,-7,-6,-5,-4,-3,-2,-1,0], "tickSize": {"condition": {"test": "datum.value % 4 === 0", "value": -5}, "value": -3}}},
            "color": {"field": "s", "type": "nominal", "legend": null},
            "shape": {"field": "s", "type": "nominal", "scale": {"domain": ["B45","B30","B0","A45","A30","A0"], "range": ["triangle-up","circle","square","triangle-up","diamond","square"]}, "legend": null}
          }
        }
      ],
      "resolve": {"axis": {"x": "independent", "y": "independent"}}
    },
    {
      "width": 244, "height": 186,
      "transform": [{"filter": "datum.p == 3"}],
      "layer": [
        {"data": {"values": [{}]}, "mark": {"type": "rule", "color": "#b3b3b3", "strokeDash": [7, 5], "strokeWidth": 1}, "encoding": {"x": {"datum": 0, "type": "quantitative", "axis": null}}},
        {
          "mark": {"type": "line", "strokeWidth": 1},
          "encoding": {
            "x": {"field": "f", "type": "quantitative", "scale": {"domain": [-20, 40], "nice": false, "zero": false},
              "axis": {"orient": "bottom", "title": null, "values": [-20,-18,-16,-14,-12,-10,-8,-6,-4,-2,0,2,4,6,8,10,12,14,16,18,20,22,24,26,28,30,32,34,36,38,40], "labelExpr": "datum.value % 10 === 0 ? datum.label : ''", "tickSize": {"condition": {"test": "datum.value % 10 === 0", "value": -5}, "value": -3}, "labelPadding": 11}},
            "y": {"field": "z", "type": "quantitative", "scale": {"domain": [-16, 0], "nice": false, "zero": false},
              "axis": {"orient": "left", "title": null, "values": [-16,-15,-14,-13,-12,-11,-10,-9,-8,-7,-6,-5,-4,-3,-2,-1,0], "labelExpr": "datum.value % 4 === 0 ? datum.label : ''", "tickSize": {"condition": {"test": "datum.value % 4 === 0", "value": -5}, "value": -3}, "labelPadding": 10}},
            "color": {"field": "s", "type": "nominal",
              "scale": {"domain": ["A0","A30","A45","B0","B30","B45"], "range": ["#f7941d","#ee1c1c","#9933ff","#8c8c8c","#1e8c1e","#111111"]},
              "legend": {"title": ["Pile3", "0°Load\u00a0\u00a0\u00a045°Load"], "orient": "none", "legendX": 127, "legendY": 107, "labelExpr": "slice(datum.label, 1) + '°'",
                "encode": {"symbols": {"update": {
                  "shape": {"signal": "datum.value == 'A30' ? 'M-3.4,0H3.4M0,-0.75L0.75,0L0,0.75L-0.75,0Z' : datum.value == 'B30' ? 'M-3.4,0H3.4M-0.6,0A0.6,0.6,0,1,0,0.6,0A0.6,0.6,0,1,0,-0.6,0Z' : (datum.value == 'A45' || datum.value == 'B45') ? 'M-3.4,0H3.4M0,-0.75L0.75,0.55H-0.75Z' : 'M-3.4,0H3.4M-0.6,-0.6H0.6V0.6H-0.6Z'"},
                  "stroke": {"signal": "datum.value == 'A0' ? '#f7941d' : datum.value == 'B0' ? '#8c8c8c' : datum.value == 'A30' ? '#ee1c1c' : datum.value == 'B30' ? '#1e8c1e' : datum.value == 'A45' ? '#9933ff' : '#111111'"},
                  "fill": {"signal": "datum.value == 'A0' ? '#f7941d' : datum.value == 'B0' ? '#8c8c8c' : datum.value == 'A30' ? '#ee1c1c' : datum.value == 'B30' ? '#1e8c1e' : datum.value == 'A45' ? '#9933ff' : '#111111'"},
                  "strokeWidth": {"value": 1}, "opacity": {"value": 1}}}}}},
            "order": {"field": "z", "sort": "descending"}
          }
        },
        {
          "mark": {"type": "point", "filled": true, "opacity": 1, "size": 16},
          "encoding": {
            "x": {"field": "f", "type": "quantitative", "axis": {"orient": "top", "title": null, "labels": false, "values": [-20,-18,-16,-14,-12,-10,-8,-6,-4,-2,0,2,4,6,8,10,12,14,16,18,20,22,24,26,28,30,32,34,36,38,40], "tickSize": {"condition": {"test": "datum.value % 10 === 0", "value": -5}, "value": -3}}},
            "y": {"field": "z", "type": "quantitative", "axis": {"orient": "right", "title": null, "labels": false, "values": [-16,-15,-14,-13,-12,-11,-10,-9,-8,-7,-6,-5,-4,-3,-2,-1,0], "tickSize": {"condition": {"test": "datum.value % 4 === 0", "value": -5}, "value": -3}}},
            "color": {"field": "s", "type": "nominal", "legend": null},
            "shape": {"field": "s", "type": "nominal", "scale": {"domain": ["B45","B30","B0","A45","A30","A0"], "range": ["triangle-up","circle","square","triangle-up","diamond","square"]}, "legend": null}
          }
        }
      ],
      "resolve": {"axis": {"x": "independent", "y": "independent"}}
    },
    {
      "width": 244, "height": 186,
      "transform": [{"filter": "datum.p == 4"}],
      "layer": [
        {"data": {"values": [{}]}, "mark": {"type": "rule", "color": "#b3b3b3", "strokeDash": [7, 5], "strokeWidth": 1}, "encoding": {"x": {"datum": 0, "type": "quantitative", "axis": null}}},
        {
          "mark": {"type": "line", "strokeWidth": 1},
          "encoding": {
            "x": {"field": "f", "type": "quantitative", "scale": {"domain": [-20, 40], "nice": false, "zero": false},
              "axis": {"orient": "bottom", "title": null, "values": [-20,-18,-16,-14,-12,-10,-8,-6,-4,-2,0,2,4,6,8,10,12,14,16,18,20,22,24,26,28,30,32,34,36,38,40], "labelExpr": "datum.value % 10 === 0 ? datum.label : ''", "tickSize": {"condition": {"test": "datum.value % 10 === 0", "value": -5}, "value": -3}, "labelPadding": 11}},
            "y": {"field": "z", "type": "quantitative", "scale": {"domain": [-16, 0], "nice": false, "zero": false},
              "axis": {"orient": "left", "title": null, "labels": false, "values": [-16,-15,-14,-13,-12,-11,-10,-9,-8,-7,-6,-5,-4,-3,-2,-1,0], "tickSize": {"condition": {"test": "datum.value % 4 === 0", "value": -5}, "value": -3}}},
            "color": {"field": "s", "type": "nominal",
              "scale": {"domain": ["A0","A30","A45","B0","B30","B45"], "range": ["#f7941d","#ee1c1c","#9933ff","#8c8c8c","#1e8c1e","#111111"]},
              "legend": {"title": ["Pile4", "0°Load\u00a0\u00a0\u00a045°Load"], "orient": "none", "legendX": 127, "legendY": 107, "labelExpr": "slice(datum.label, 1) + '°'",
                "encode": {"symbols": {"update": {
                  "shape": {"signal": "datum.value == 'A30' ? 'M-3.4,0H3.4M0,-0.75L0.75,0L0,0.75L-0.75,0Z' : datum.value == 'B30' ? 'M-3.4,0H3.4M-0.6,0A0.6,0.6,0,1,0,0.6,0A0.6,0.6,0,1,0,-0.6,0Z' : (datum.value == 'A45' || datum.value == 'B45') ? 'M-3.4,0H3.4M0,-0.75L0.75,0.55H-0.75Z' : 'M-3.4,0H3.4M-0.6,-0.6H0.6V0.6H-0.6Z'"},
                  "stroke": {"signal": "datum.value == 'A0' ? '#f7941d' : datum.value == 'B0' ? '#8c8c8c' : datum.value == 'A30' ? '#ee1c1c' : datum.value == 'B30' ? '#1e8c1e' : datum.value == 'A45' ? '#9933ff' : '#111111'"},
                  "fill": {"signal": "datum.value == 'A0' ? '#f7941d' : datum.value == 'B0' ? '#8c8c8c' : datum.value == 'A30' ? '#ee1c1c' : datum.value == 'B30' ? '#1e8c1e' : datum.value == 'A45' ? '#9933ff' : '#111111'"},
                  "strokeWidth": {"value": 1}, "opacity": {"value": 1}}}}}},
            "order": {"field": "z", "sort": "descending"}
          }
        },
        {
          "mark": {"type": "point", "filled": true, "opacity": 1, "size": 16},
          "encoding": {
            "x": {"field": "f", "type": "quantitative", "axis": {"orient": "top", "title": null, "labels": false, "values": [-20,-18,-16,-14,-12,-10,-8,-6,-4,-2,0,2,4,6,8,10,12,14,16,18,20,22,24,26,28,30,32,34,36,38,40], "tickSize": {"condition": {"test": "datum.value % 10 === 0", "value": -5}, "value": -3}}},
            "y": {"field": "z", "type": "quantitative", "axis": {"orient": "right", "title": null, "labels": false, "values": [-16,-15,-14,-13,-12,-11,-10,-9,-8,-7,-6,-5,-4,-3,-2,-1,0], "tickSize": {"condition": {"test": "datum.value % 4 === 0", "value": -5}, "value": -3}}},
            "color": {"field": "s", "type": "nominal", "legend": null},
            "shape": {"field": "s", "type": "nominal", "scale": {"domain": ["B45","B30","B0","A45","A30","A0"], "range": ["triangle-up","circle","square","triangle-up","diamond","square"]}, "legend": null}
          }
        }
      ],
      "resolve": {"axis": {"x": "independent", "y": "independent"}}
    }
  ],
  "config": {
    "font": "Liberation Serif",
    "view": {"stroke": "#000", "strokeWidth": 1},
    "axis": {"labelFont": "Liberation Serif", "labelFontSize": 11.5, "labelColor": "#000", "tickColor": "#000", "tickWidth": 1, "titleFont": "Liberation Serif", "titleFontSize": 12, "titleColor": "#000", "domain": false, "grid": false, "labelOverlap": false, "labelFlush": false},
    "legend": {"labelFont": "Liberation Serif", "titleFont": "Liberation Serif", "labelFontSize": 11.5, "titleFontSize": 11.5, "titleFontWeight": "normal", "labelColor": "#000", "titleColor": "#000", "columns": 2, "columnPadding": 15, "rowPadding": 1.5, "symbolSize": 64, "labelOffset": 9, "titleAnchor": "middle", "titleAlign": "center", "titlePadding": 3, "padding": 0}
  }
}
